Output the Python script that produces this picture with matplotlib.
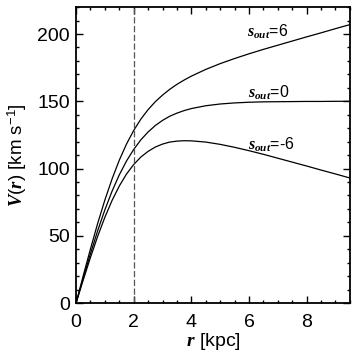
import matplotlib
matplotlib.use("Agg")
import matplotlib.pyplot as plt
from matplotlib.ticker import MultipleLocator

plt.rcParams['font.family'] = ['Liberation Sans', 'DejaVu Sans']
plt.rcParams['mathtext.fontset'] = 'custom'
plt.rcParams['mathtext.rm'] = 'Liberation Sans'
plt.rcParams['mathtext.it'] = 'Liberation Serif:bold:italic'
plt.rcParams['mathtext.bf'] = 'Liberation Serif:bold'

# radius in kpc
r = [0, 0.25, 0.5, 0.75, 1.0, 1.25, 1.5, 1.75, 2.0, 2.25, 2.5, 2.75, 3.0,
     3.25, 3.5, 3.75, 4.0, 4.5, 5.0, 5.5, 6.0, 6.5, 7.0, 7.5, 8.0, 8.5,
     9.0, 9.5]

# rotation velocity in km/s for each outer slope
v_s6 = [0, 20.4, 40.2, 59.2, 76.6, 92.3, 106.2, 118.2, 128.3, 136.8, 143.8,
        149.7, 154.6, 158.9, 162.6, 165.8, 168.7, 173.7, 178.0, 181.8, 185.3,
        188.6, 191.7, 194.8, 197.9, 200.9, 204.0, 207.0]
v_s0 = [0, 18.7, 36.7, 53.8, 69.3, 83.2, 95.3, 105.6, 114.2, 121.4, 127.2,
        132.0, 135.8, 138.9, 141.2, 143.1, 144.6, 146.7, 148.0, 148.8, 149.3,
        149.6, 149.7, 149.8, 149.9, 149.9, 150.0, 150.0]
v_sm6 = [0, 17.2, 33.9, 49.6, 63.8, 76.3, 87.0, 95.9, 103.0, 108.6, 112.8,
         116.0, 118.2, 119.7, 120.4, 120.7, 120.6, 119.7, 118.0, 115.8, 113.3,
         110.6, 107.7, 104.8, 101.9, 98.9, 96.0, 93.0]

labels = [r'$s_{out}$=6', r'$s_{out}$=0', r'$s_{out}$=-6']
label_pos = [(5.94, 202), (5.98, 156), (5.98, 118)]

fig = plt.figure(figsize=(3.57, 3.57), dpi=100)
ax = fig.add_axes([0.213, 0.151, 0.767, 0.829])

for v in (v_s6, v_s0, v_sm6):
    ax.plot(r, v, color='black', lw=0.9)

ax.axvline(2.0, color='#555555', lw=0.9, ls=(0, (5, 2)))

for txt, (x, y) in zip(labels, label_pos):
    ax.text(x, y, txt, fontsize=11.5, ha='left', va='center')

ax.set_xlim(0, 9.5)
ax.set_ylim(0, 220)
ax.xaxis.set_major_locator(MultipleLocator(2))
ax.xaxis.set_minor_locator(MultipleLocator(0.5))
ax.yaxis.set_major_locator(MultipleLocator(50))
ax.yaxis.set_minor_locator(MultipleLocator(10))
ax.tick_params(which='both', direction='in', top=True, right=True,
               width=1.0, labelsize=14)
ax.tick_params(which='major', length=5)
ax.tick_params(which='minor', length=2.5)
ax.tick_params(axis='x', pad=8)
ax.tick_params(axis='y', pad=4.5)
for s in ax.spines.values():
    s.set_linewidth(1.3)

ax.set_xlabel(r'$r$ [kpc]', fontsize=14)
ax.set_ylabel(r'$\mathit{V(r)}$ [km s$^{-1}$]', fontsize=13.5)
ax.xaxis.set_label_coords(0.5, -0.095)
ax.yaxis.set_label_coords(-0.17, 0.5)

fig.savefig('out.png', dpi=100)
